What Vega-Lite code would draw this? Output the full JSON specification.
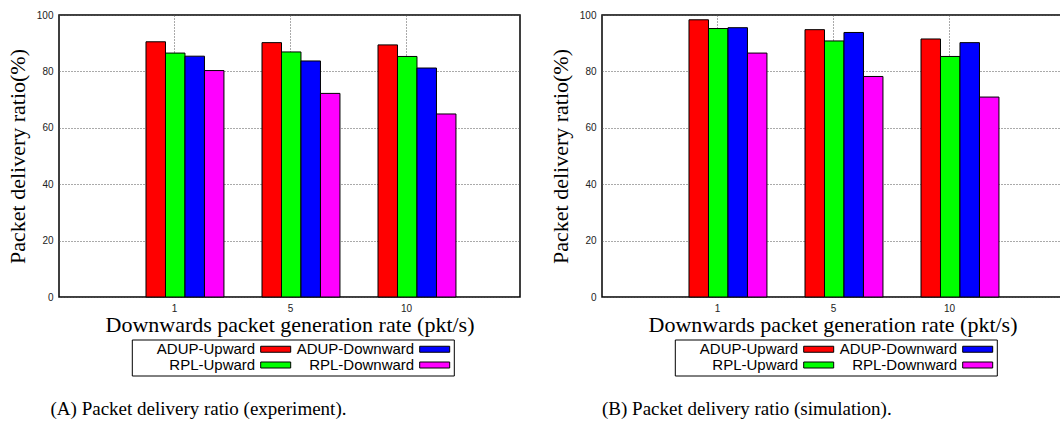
{
  "$schema": "https://vega.github.io/schema/vega-lite/v6.json",
  "padding": {"left": 5, "top": 9, "right": 0, "bottom": 0},
  "background": "white",
  "spacing": 27,
  "datasets": {
    "exp": [
      {"rate": "1", "series": "ADUP-Upward", "pdr": 90.5},
      {"rate": "1", "series": "RPL-Upward", "pdr": 86.5},
      {"rate": "1", "series": "ADUP-Downward", "pdr": 85.4},
      {"rate": "1", "series": "RPL-Downward", "pdr": 80.3},
      {"rate": "5", "series": "ADUP-Upward", "pdr": 90.2},
      {"rate": "5", "series": "RPL-Upward", "pdr": 86.9},
      {"rate": "5", "series": "ADUP-Downward", "pdr": 83.7},
      {"rate": "5", "series": "RPL-Downward", "pdr": 72.2},
      {"rate": "10", "series": "ADUP-Upward", "pdr": 89.4},
      {"rate": "10", "series": "RPL-Upward", "pdr": 85.3},
      {"rate": "10", "series": "ADUP-Downward", "pdr": 81.2},
      {"rate": "10", "series": "RPL-Downward", "pdr": 64.9}
    ],
    "sim": [
      {"rate": "1", "series": "ADUP-Upward", "pdr": 98.3},
      {"rate": "1", "series": "RPL-Upward", "pdr": 95.2},
      {"rate": "1", "series": "ADUP-Downward", "pdr": 95.5},
      {"rate": "1", "series": "RPL-Downward", "pdr": 86.5},
      {"rate": "5", "series": "ADUP-Upward", "pdr": 94.8},
      {"rate": "5", "series": "RPL-Upward", "pdr": 90.8},
      {"rate": "5", "series": "ADUP-Downward", "pdr": 93.8},
      {"rate": "5", "series": "RPL-Downward", "pdr": 78.2},
      {"rate": "10", "series": "ADUP-Upward", "pdr": 91.5},
      {"rate": "10", "series": "RPL-Upward", "pdr": 85.3},
      {"rate": "10", "series": "ADUP-Downward", "pdr": 90.2},
      {"rate": "10", "series": "RPL-Downward", "pdr": 70.9}
    ]
  },
  "config": {
    "view": {"stroke": "black", "strokeWidth": 1.5},
    "axis": {
      "labelFont": "Liberation Sans",
      "labelFontSize": 10,
      "labelColor": "#222",
      "titleFont": "Liberation Serif",
      "titleFontSize": 22,
      "titleFontWeight": "normal",
      "titleColor": "black",
      "domain": false,
      "ticks": false,
      "grid": true,
      "gridColor": "#555",
      "gridDash": [1, 2],
      "gridWidth": 1,
      "gridOpacity": 1
    },
    "legend": {
      "labelFont": "Liberation Sans",
      "labelFontSize": 15,
      "labelColor": "black",
      "labelAlign": "right",
      "labelOffset": -28,
      "symbolOffset": 134.4,
      "symbolType": "M-3,-0.6H3V0.6H-3Z",
      "symbolSize": 100,
      "symbolStrokeColor": "black",
      "symbolStrokeWidth": 1,
      "symbolOpacity": 1,
      "columns": 2,
      "columnPadding": -1,
      "rowPadding": -1,
      "padding": 2,
      "strokeColor": "black",
      "strokeWidth": 1,
      "orient": "none",
      "legendX": 72.8,
      "legendY": 324.5
    },
    "title": {
      "font": "Liberation Serif",
      "fontSize": 19,
      "fontWeight": "normal",
      "color": "black",
      "orient": "bottom",
      "anchor": "start",
      "frame": "group",
      "offset": 24
    }
  },
  "hconcat": [
    {
      "title": {"text": "(A) Packet delivery ratio (experiment).", "dx": -8.5},
      "width": 461,
      "height": 282,
      "data": {"name": "exp"},
      "mark": {"type": "bar", "stroke": "black", "strokeWidth": 1},
      "encoding": {
        "x": {
          "field": "rate", "type": "nominal", "sort": ["1", "5", "10"],
          "scale": {"paddingInner": 0.328, "paddingOuter": 0.651, "align": 0.576},
          "axis": {"title": "Downwards packet generation rate (pkt/s)", "labelAngle": 0, "bandPosition": 0.365, "labelOffset": -10.5, "labelPadding": 6, "titlePadding": 1}
        },
        "xOffset": {
          "field": "series", "type": "nominal",
          "scale": {"domain": ["ADUP-Upward", "RPL-Upward", "ADUP-Downward", "RPL-Downward"], "paddingInner": 0, "paddingOuter": 0}
        },
        "y": {
          "field": "pdr", "type": "quantitative",
          "scale": {"domain": [0, 100], "nice": false},
          "axis": {"title": "Packet delivery ratio(%)", "values": [0, 20, 40, 60, 80, 100], "labelPadding": 6, "titlePadding": 7}
        },
        "color": {
          "field": "series", "type": "nominal",
          "scale": {"domain": ["ADUP-Upward", "RPL-Upward", "ADUP-Downward", "RPL-Downward"], "range": ["#ff0000", "#00ff00", "#0000ff", "#ff00ff"]},
          "legend": {"title": null}
        }
      }
    },
    {
      "title": {"text": "(B) Packet delivery ratio (simulation).", "dx": 0},
      "width": 461,
      "height": 282,
      "data": {"name": "sim"},
      "mark": {"type": "bar", "stroke": "black", "strokeWidth": 1},
      "encoding": {
        "x": {
          "field": "rate", "type": "nominal", "sort": ["1", "5", "10"],
          "scale": {"paddingInner": 0.328, "paddingOuter": 0.651, "align": 0.576},
          "axis": {"title": "Downwards packet generation rate (pkt/s)", "labelAngle": 0, "bandPosition": 0.365, "labelOffset": -10.5, "labelPadding": 6, "titlePadding": 1}
        },
        "xOffset": {
          "field": "series", "type": "nominal",
          "scale": {"domain": ["ADUP-Upward", "RPL-Upward", "ADUP-Downward", "RPL-Downward"], "paddingInner": 0, "paddingOuter": 0}
        },
        "y": {
          "field": "pdr", "type": "quantitative",
          "scale": {"domain": [0, 100], "nice": false},
          "axis": {"title": "Packet delivery ratio(%)", "values": [0, 20, 40, 60, 80, 100], "labelPadding": 6, "titlePadding": 7}
        },
        "color": {
          "field": "series", "type": "nominal",
          "scale": {"domain": ["ADUP-Upward", "RPL-Upward", "ADUP-Downward", "RPL-Downward"], "range": ["#ff0000", "#00ff00", "#0000ff", "#ff00ff"]},
          "legend": {"title": null}
        }
      }
    }
  ],
  "resolve": {"scale": {"color": "independent"}, "legend": {"color": "independent"}}
}
